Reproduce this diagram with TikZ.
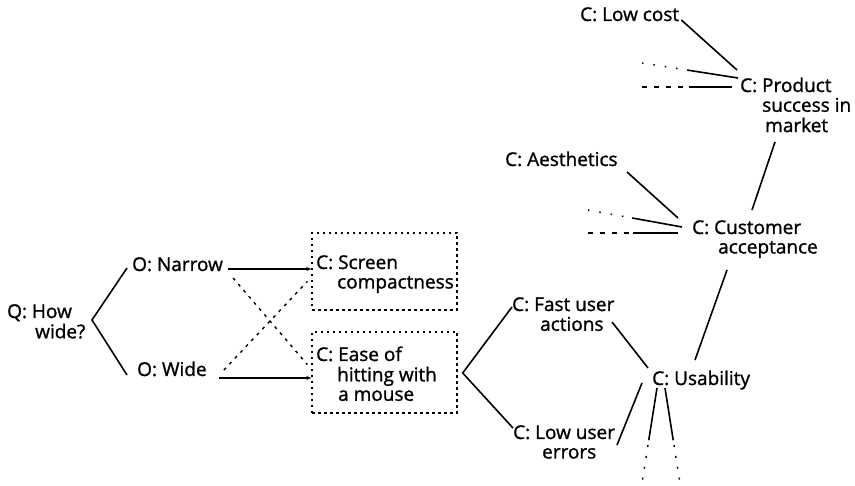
\documentclass[tikz,border=0pt]{standalone}
\usepackage{fontspec}
\setmainfont{Open Sans}
\newfontfamily\lblfamily{Open Sans}[FakeBold=1.2]
\usetikzlibrary{arrows.meta,calc}

% multi-line label whose baseline is that of its first line
\newcommand{\lbllines}[1]{\begin{tabular}[t]{@{}l@{}}#1\end{tabular}}

\tikzset{
  lbl/.style={anchor=base west, inner sep=0pt,
              font=\lblfamily\fontsize{19}{19.5}\selectfont},
  link/.style={line width=1.6pt},
  arr/.style={link, -{Stealth[length=5pt,width=4pt]}},
  dbox/.style={draw, line width=1.4pt, dash pattern=on 2.5pt off 3.5pt,
               inner sep=0pt},
  cross/.style={line width=1.4pt, dash pattern=on 3pt off 5pt},
  dotstub/.style={line width=1.4pt, dash pattern=on 1.5pt off 10pt},
  dashstub/.style={line width=1.4pt, dash pattern=on 5pt off 7pt},
  dotdown/.style={line width=1.4pt, dash pattern=on 2pt off 9pt},
}

\begin{document}
\begin{tikzpicture}[x=1pt, y=-1pt]
\useasboundingbox (0,0) rectangle (855,486);

% ---- question and options
\node[lbl] (q) at (7,318) {\lbllines{Q: How\\\hspace*{28pt}wide?}};
\node[lbl] (narrow) at (132,271) {O: Narrow};
\node[lbl] (wide) at (137,376) {O: Wide};

% ---- criteria boxes
\node[dbox, minimum width=145pt, minimum height=77pt] (screenbox) at (384.5,271.5) {};
\node[dbox, minimum width=145pt, minimum height=81pt] (easebox) at (384.5,372.5) {};
\node[lbl] (screen) at (316,269) {\lbllines{C: Screen\\\hspace*{21pt}compactness}};
\node[lbl] (ease) at (316,361) {\lbllines{C: Ease of\\\hspace*{21pt}hitting with\\\hspace*{22pt}a mouse}};

% ---- criteria network
\node[lbl] (fast) at (512,311) {\lbllines{C: Fast user\\\hspace*{28pt}actions}};
\node[lbl] (lowerr) at (513,439) {\lbllines{C: Low user\\\hspace*{29pt}errors}};
\node[lbl] (usab) at (652,385) {C: Usability};
\node[lbl] (lowcost) at (580,21) {C: Low cost};
\node[lbl] (product) at (740,92) {\lbllines{C: Product\\\hspace*{22pt}success in\\\hspace*{25pt}market}};
\node[lbl] (aesth) at (505,166) {C: Aesthetics};
\node[lbl] (cust) at (692,234) {\lbllines{C: Customer\\\hspace*{26pt}acceptance}};

% ---- question bracket
\draw[link] ($(narrow.base west)+(-5,-3)$) -- ($(q.base west)+(85,2)$)
            -- ($(wide.base west)+(-10,-1)$);

% ---- options to criteria
\draw[arr] (narrow.base east) ++(5,-2) coordinate (n0) -- (n0 -| screenbox.west);
\draw[arr] (wide.base east) ++(12,2) coordinate (w0) -- (w0 -| easebox.west);
\draw[cross] ($(narrow.base east)+(10,7)$) -- ($(easebox.west)+(-4,-8)$);
\draw[cross] ($(wide.base east)+(17,-6)$) -- ($(screenbox.west)+(-4,10)$);

% ---- ease of hitting splits into speed and errors
\draw[link] ($(fast.base west)+(0,-4)$) -- ($(easebox.east)+(5,0.5)$)
            -- ($(lowerr.base west)+(0,-11)$);

% ---- into usability
\draw[link] ($(fast.base west)+(100,11)$) -- ($(usab.base west)+(-4,-17)$);
\draw[link] ($(lowerr.base west)+(104,6)$) -- ($(usab.base west)+(-10,-2)$);
\coordinate (ua) at ($(usab.base west)+(5,3)$);
\coordinate (ub) at ($(usab.base west)+(13,3)$);
\coordinate (uaend) at ($(usab.base west)+(-10,98)$);
\coordinate (ubend) at ($(usab.base west)+(28,98)$);
\draw[link] (ua) -- ($(ua)!0.55!(uaend)$);
\draw[dotdown] ($(ua)!0.6!(uaend)$) -- (uaend);
\draw[link] (ub) -- ($(ub)!0.55!(ubend)$);
\draw[dotdown] ($(ub)!0.6!(ubend)$) -- (ubend);

% ---- usability into customer acceptance
\draw[link] ($(usab.base west)+(43,-25)$) -- ($(cust.base west)+(35,36)$);
\draw[link] ($(aesth.base west)+(122,6)$) -- ($(cust.base west)+(-14,-16)$);
\coordinate (c1) at ($(cust.base west)+(-104,-24)$);
\coordinate (c2) at ($(cust.base west)+(-104,-1)$);
\draw[dotstub] (c1) -- ($(c1)!0.47!($(cust.base west)+(-10,-7)$)$);
\draw[link] ($(c1)!0.47!($(cust.base west)+(-10,-7)$)$) -- ($(cust.base west)+(-10,-7)$);
\draw[dashstub] (c2) -- ($(c2)!0.5!($(cust.base west)+(-14,-1)$)$);
\draw[link] ($(c2)!0.5!($(cust.base west)+(-14,-1)$)$) -- ($(cust.base west)+(-14,-1)$);

% ---- customer acceptance into product success
\draw[link] ($(cust.base west)+(60,-24)$) -- ($(product.base west)+(35,50)$);
\draw[link] (lowcost.base east) ++(2,-1) coordinate (lc0) -- ($(product.base west)+(-3,-22)$);
\coordinate (p1) at ($(product.base west)+(-98,-29)$);
\coordinate (p2) at ($(product.base west)+(-98,-5)$);
\draw[dotstub] (p1) -- ($(p1)!0.47!($(product.base west)+(-2,-14)$)$);
\draw[link] ($(p1)!0.47!($(product.base west)+(-2,-14)$)$) -- ($(product.base west)+(-2,-14)$);
\draw[dashstub] (p2) -- ($(p2)!0.52!($(product.base west)+(-8,-5)$)$);
\draw[link] ($(p2)!0.52!($(product.base west)+(-8,-5)$)$) -- ($(product.base west)+(-8,-5)$);
\end{tikzpicture}
\end{document}
